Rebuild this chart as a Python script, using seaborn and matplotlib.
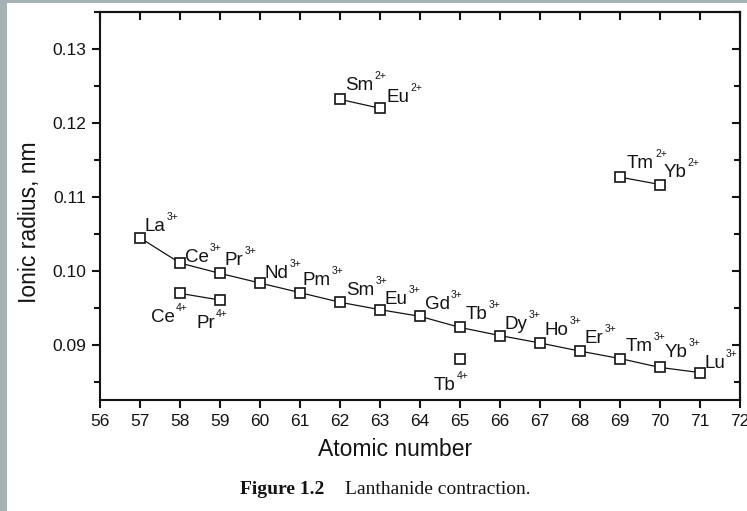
import matplotlib
matplotlib.use("Agg")
import matplotlib.pyplot as plt
import pandas as pd
import seaborn as sns
from matplotlib.ticker import MultipleLocator, FormatStrFormatter
from matplotlib.patches import Rectangle

# ---------------- data ----------------
z3 = [57, 58, 59, 60, 61, 62, 63, 64, 65, 66, 67, 68, 69, 70, 71]
r3 = [0.1045, 0.1011, 0.0997, 0.0984, 0.0971, 0.0958, 0.0948, 0.0939,
      0.0924, 0.0913, 0.0903, 0.0892, 0.0882, 0.0870, 0.0863]
el3 = ["La", "Ce", "Pr", "Nd", "Pm", "Sm", "Eu", "Gd", "Tb", "Dy", "Ho",
       "Er", "Tm", "Yb", "Lu"]

z4 = [58, 59]
r4 = [0.0970, 0.0961]
el4 = ["Ce", "Pr"]

z4tb = [65]
r4tb = [0.0881]
el4tb = ["Tb"]

z2a = [62, 63]
r2a = [0.1232, 0.1220]
el2a = ["Sm", "Eu"]

z2b = [69, 70]
r2b = [0.1127, 0.1117]
el2b = ["Tm", "Yb"]

x_ticks = list(range(56, 73))
y_ticks = [0.09, 0.10, 0.11, 0.12, 0.13]

# label placement (pixel offsets of text left/baseline from the point)
label_offsets = {
    ("La", "3+"): (5, 7), ("Ce", "3+"): (5, 1), ("Pr", "3+"): (5, 8),
    ("Nd", "3+"): (5, 5), ("Pm", "3+"): (3, 8), ("Sm", "3+"): (6, 7),
    ("Eu", "3+"): (5, 6), ("Gd", "3+"): (5, 7), ("Tb", "3+"): (6, 8),
    ("Dy", "3+"): (5, 7), ("Ho", "3+"): (5, 8), ("Er", "3+"): (5, 8),
    ("Tm", "3+"): (6, 8), ("Yb", "3+"): (5, 10), ("Lu", "3+"): (4, 5),
    ("Ce", "4+"): (-29, -29), ("Pr", "4+"): (-24, -28), ("Tb", "4+"): (-26, -31),
    ("Sm", "2+"): (5, 9), ("Eu", "2+"): (7, 6),
    ("Tm", "2+"): (7, 9), ("Yb", "2+"): (4, 8),
}

# ---------------- style ----------------
sns.set_theme(style="ticks")
plt.rcParams["font.family"] = ["Liberation Sans", "DejaVu Sans"]
INK = "#141414"
LW = 1.5

fig = plt.figure(figsize=(7.47, 5.11), dpi=100)
fig.patch.set_facecolor("white")
W, H = 747, 511
ax = fig.add_axes([100 / W, 1 - 400 / H, 640 / W, 388 / H])
ax.set_facecolor("white")

# border strips of the scan
fig.patches.append(Rectangle((0, 0), 7 / W, 1, transform=fig.transFigure,
                             facecolor="#a6b3b5", edgecolor="none", zorder=0))
fig.patches.append(Rectangle((0, 1 - 3 / H), 1, 3 / H, transform=fig.transFigure,
                             facecolor="#a6b3b5", edgecolor="none", zorder=0))

series = [
    (z3, r3, el3, "3+"),
    (z4, r4, el4, "4+"),
    (z4tb, r4tb, el4tb, "4+"),
    (z2a, r2a, el2a, "2+"),
    (z2b, r2b, el2b, "2+"),
]

for zs, rs, els, chg in series:
    df = pd.DataFrame({"z": zs, "r": rs})
    sns.lineplot(data=df, x="z", y="r", ax=ax, color=INK, linewidth=0.9,
                 marker="s", markersize=7, markerfacecolor="white",
                 markeredgecolor=INK, markeredgewidth=1.2, legend=False)
    for zz, rr, e in zip(zs, rs, els):
        dx, dy = label_offsets[(e, chg)]
        main = ax.annotate(e, xy=(zz, rr), xytext=(dx, dy),
                           textcoords="offset pixels", ha="left",
                           va="baseline", fontsize=13.5, color=INK)
        ax.annotate(chg, xy=(1, 1), xycoords=main, xytext=(1, 1),
                    textcoords="offset pixels", ha="left", va="center",
                    fontsize=7.5, color=INK)

ax.set_xlim(56, 72)
ax.set_ylim(0.0826, 0.1350)
ax.set_xticks(x_ticks)
ax.set_xticklabels([str(t) for t in x_ticks])
ax.set_yticks(y_ticks)
ax.yaxis.set_major_formatter(FormatStrFormatter("%.2f"))
ax.yaxis.set_minor_locator(MultipleLocator(0.005))
ax.set_xlabel("")
ax.set_ylabel("")

for sp in ax.spines.values():
    sp.set_visible(True)
    sp.set_linewidth(LW)
    sp.set_color(INK)

ax.tick_params(axis="x", which="major", direction="out", length=6, width=LW,
               labelsize=12.5, pad=4, colors=INK, top=False)
ax.tick_params(axis="y", which="major", direction="out", length=5.5, width=LW,
               labelsize=12.5, pad=4.5, colors=INK, right=False)
ax.tick_params(axis="y", which="minor", direction="out", length=4, width=LW,
               colors=INK, right=False)

sx = ax.secondary_xaxis("top")
sx.set_xticks(x_ticks)
sx.tick_params(axis="x", which="major", direction="in", length=6, width=LW,
               labeltop=False, colors=INK)
sx.spines["top"].set_linewidth(LW)
sx.spines["top"].set_color(INK)
sy = ax.secondary_yaxis("right")
sy.set_yticks(y_ticks)
sy.yaxis.set_minor_locator(MultipleLocator(0.005))
sy.tick_params(axis="y", which="major", direction="in", length=5.5, width=LW,
               labelright=False, colors=INK)
sy.tick_params(axis="y", which="minor", direction="in", length=4, width=LW,
               labelright=False, colors=INK)
sy.spines["right"].set_linewidth(LW)
sy.spines["right"].set_color(INK)

# axis titles
fig.text(395 / W, 1 - 450 / H, "Atomic number", ha="center", va="center",
         fontsize=16.5, color=INK)
fig.text(30 / W, 1 - 222 / H, "Ionic radius, nm", ha="center", va="center",
         rotation=90, fontsize=16.5, color=INK)

# caption
fig.text(240 / W, 1 - 494 / H, "Figure 1.2", ha="left", va="baseline",
         fontsize=14, fontweight="bold", family="Liberation Serif", color=INK)
fig.text(345 / W, 1 - 494 / H, "Lanthanide contraction.", ha="left",
         va="baseline", fontsize=14, family="Liberation Serif", color=INK)

fig.savefig("out.png", dpi=100, facecolor="white")
